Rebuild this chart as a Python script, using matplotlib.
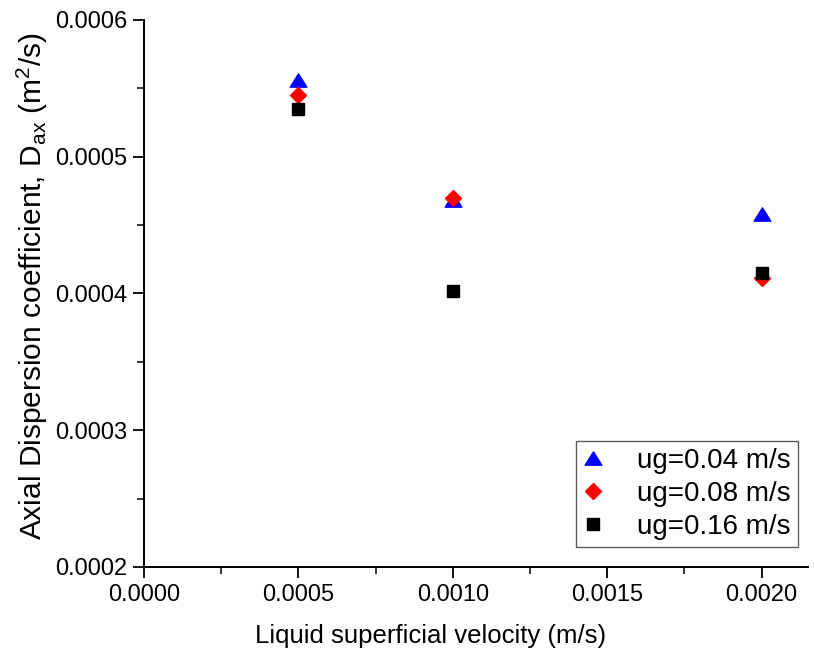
import matplotlib
matplotlib.use("Agg")
import matplotlib.pyplot as plt
from matplotlib.ticker import MultipleLocator, FormatStrFormatter
from matplotlib.path import Path

plt.rcParams['font.family'] = ['Liberation Sans', 'DejaVu Sans']
plt.rcParams['mathtext.fontset'] = 'custom'
plt.rcParams['mathtext.rm'] = 'Liberation Sans'
plt.rcParams['mathtext.it'] = 'Liberation Sans:italic'

ul = [0.0005, 0.0010, 0.0020]
dax_004 = [0.000556, 0.000468, 0.000458]
dax_008 = [0.000545, 0.000470, 0.000411]
dax_016 = [0.000535, 0.000402, 0.000415]
labels = ["ug=0.04 m/s", "ug=0.08 m/s", "ug=0.16 m/s"]

# slightly flattened triangle marker
tri = Path([(0, 0.8), (-1, -0.8), (1, -0.8), (0, 0.8)],
           [Path.MOVETO, Path.LINETO, Path.LINETO, Path.CLOSEPOLY])

fig = plt.figure(figsize=(8.14, 6.55), dpi=100)
ax = fig.add_axes([0.1769, 0.1344, 0.8157, 0.8351])

ax.plot(ul, dax_004, linestyle='none', marker=tri, color='#0000ff', ms=12, label=labels[0])
ax.plot(ul, dax_008, linestyle='none', marker='D', color='#ff0000', ms=8.3, label=labels[1])
ax.plot(ul, dax_016, linestyle='none', marker='s', color='#000000', ms=9, label=labels[2])

ax.set_xlim(0, 0.00215)
ax.set_ylim(0.0002, 0.0006)
ax.xaxis.set_major_locator(MultipleLocator(0.0005))
ax.xaxis.set_minor_locator(MultipleLocator(0.00025))
ax.yaxis.set_major_locator(MultipleLocator(0.0001))
ax.yaxis.set_minor_locator(MultipleLocator(0.00005))
ax.xaxis.set_major_formatter(FormatStrFormatter('%.4f'))
ax.yaxis.set_major_formatter(FormatStrFormatter('%.4f'))

for s in ['top', 'right']:
    ax.spines[s].set_visible(False)
for s in ['left', 'bottom']:
    ax.spines[s].set_linewidth(1.4)
ax.tick_params(which='major', direction='out', length=8, width=1.3, labelsize=17, pad=4)
ax.tick_params(which='minor', direction='out', length=5, width=1.1)

ax.set_xlabel('Liquid superficial velocity (m/s)', fontsize=18.5)
ax.xaxis.set_label_coords(0.432, -0.105)
ax.set_ylabel(r'Axial Dispersion coefficient, D$_{\rm ax}$ (m$^{\rm 2}$/s)', fontsize=21.5)
ax.yaxis.set_label_coords(-0.142, 0.513)

leg = ax.legend(loc='lower right', fontsize=20, frameon=True, fancybox=False,
                edgecolor='#333333', handletextpad=1.19, borderpad=0.25,
                labelspacing=0.25, handlelength=0.79, borderaxespad=0,
                bbox_to_anchor=(0.985, 0.037))
leg.get_frame().set_linewidth(1.0)

fig.savefig('out.png', dpi=100)
